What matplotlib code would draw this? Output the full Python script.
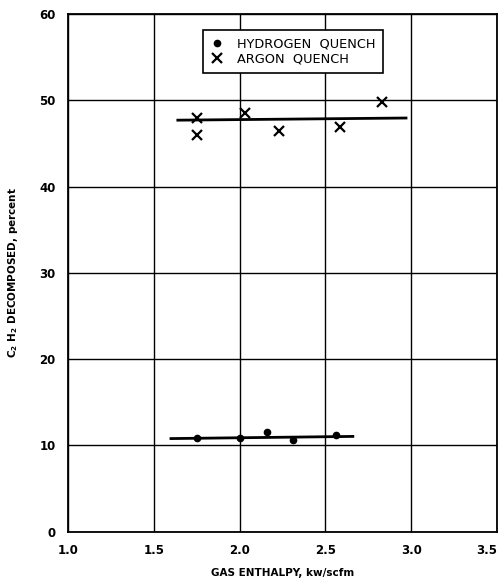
import matplotlib
matplotlib.use("Agg")
import matplotlib.pyplot as plt

# Data
h2_x = [1.75, 2.00, 2.16, 2.31, 2.56]
h2_y = [10.9, 10.9, 11.6, 10.6, 11.2]
ar_x = [1.75, 1.75, 2.03, 2.23, 2.585, 2.83]
ar_y = [47.9, 46.0, 48.5, 46.5, 46.9, 49.8]
h2_fit_x = [1.60, 2.66]
h2_fit_y = [10.8, 11.05]
ar_fit_x = [1.64, 2.97]
ar_fit_y = [47.7, 47.95]
xticks = [1.0, 1.5, 2.0, 2.5, 3.0, 3.5]
xticklabels = ["1.0", "1.5", "2.0", "2.5", "3.0", "3.5"]
yticks = [0, 10, 20, 30, 40, 50, 60]

plt.rcParams['font.family'] = ['DejaVu Sans']
fig = plt.figure(figsize=(5.04, 5.85), dpi=100)
ax = fig.add_axes([0.135, 0.091, 0.851, 0.885])

ax.plot(h2_fit_x, h2_fit_y, color='black', lw=2.0, zorder=3)
ax.plot(ar_fit_x, ar_fit_y, color='black', lw=2.0, zorder=3)
ax.plot(h2_x, h2_y, linestyle='none', marker='o', ms=4.5, color='black',
        label='HYDROGEN  QUENCH', zorder=4)
ax.plot(ar_x, ar_y, linestyle='none', marker='x', ms=7, mew=1.6, color='black',
        label='ARGON  QUENCH', zorder=4)

ax.set_xlim(1.0, 3.5)
ax.set_ylim(0, 60)
ax.set_xticks(xticks)
ax.set_xticklabels(xticklabels)
ax.set_yticks(yticks)
ax.grid(True, color='black', lw=1.0)
ax.set_axisbelow(True)
for s in ax.spines.values():
    s.set_linewidth(1.3)
ax.tick_params(length=0, pad=9, labelsize=8.5)
for lab in ax.get_xticklabels() + ax.get_yticklabels():
    lab.set_fontweight('bold')
ax.get_xticklabels()[-1].set_horizontalalignment('right')

ax.set_xlabel('GAS ENTHALPY, kw/scfm', fontsize=7.5, fontweight='bold', labelpad=8)
ax.set_ylabel(r'C$_\mathbf{2}$ H$_\mathbf{2}$ DECOMPOSED, percent', fontsize=7.5,
              fontweight='bold', labelpad=14)

leg = ax.legend(loc='upper left', bbox_to_anchor=(0.30, 0.982), fontsize=9.3,
                frameon=True, fancybox=False, edgecolor='black', framealpha=1,
                handlelength=1.0, handletextpad=1.0, borderpad=0.6,
                labelspacing=0.15)
leg.get_frame().set_linewidth(1.2)

fig.savefig('out.png', dpi=100)
